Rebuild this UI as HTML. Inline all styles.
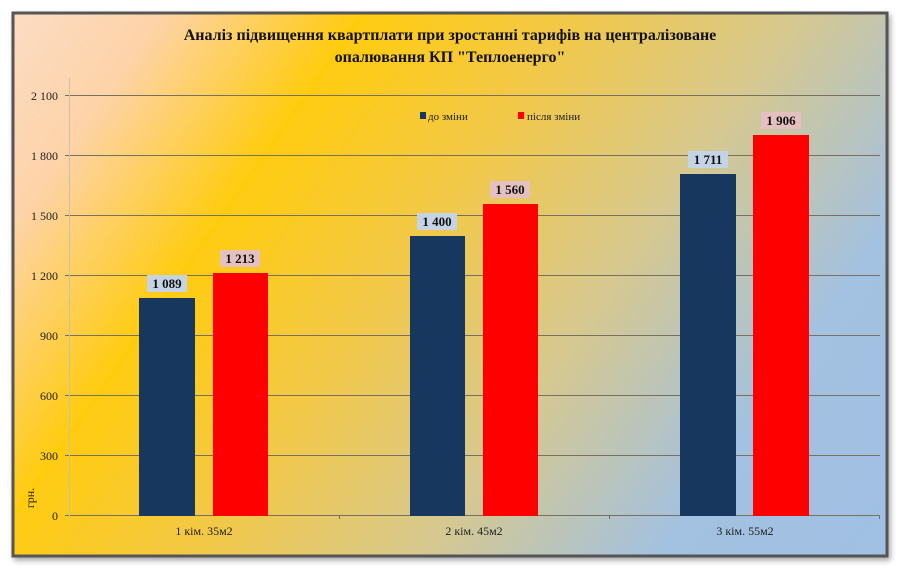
<!DOCTYPE html>
<html><head><meta charset="utf-8"><style>
html,body{margin:0;padding:0;background:#fff;}
svg{display:block;font-family:"Liberation Serif",serif;}
</style></head><body>
<svg width="900" height="570" viewBox="0 0 900 570" xmlns="http://www.w3.org/2000/svg">
<defs>
<linearGradient id="bg" gradientUnits="userSpaceOnUse" x1="13" y1="13" x2="854" y2="598">
<stop offset="0" stop-color="#fcdcc4"/>
<stop offset="0.12" stop-color="#fdd3a8"/>
<stop offset="0.28" stop-color="#ffcc10"/>
<stop offset="0.45" stop-color="#f2c848"/>
<stop offset="0.63" stop-color="#d6c890"/>
<stop offset="0.82" stop-color="#a3c1e0"/>
<stop offset="1" stop-color="#a0c0e4"/>
</linearGradient>
<filter id="sh" x="-5%" y="-5%" width="110%" height="110%"><feDropShadow dx="2" dy="3" stdDeviation="3" flood-color="#000" flood-opacity="0.35"/></filter>
</defs>
<rect x="13" y="13" width="874" height="543" fill="url(#bg)" stroke="#555" stroke-width="3" filter="url(#sh)"/>
<text x="450" y="40" text-anchor="middle" font-size="16" font-weight="bold" fill="#111">Аналіз підвищення квартплати при зростанні тарифів на централізоване</text>
<text x="450" y="62" text-anchor="middle" font-size="16" font-weight="bold" fill="#111">опалювання  КП "Теплоенерго"</text>
<g stroke="#7a7060" stroke-width="1">
<line x1="65" y1="95.5" x2="880" y2="95.5"/>
<line x1="65" y1="155.5" x2="880" y2="155.5"/>
<line x1="65" y1="215.5" x2="880" y2="215.5"/>
<line x1="65" y1="275.5" x2="880" y2="275.5"/>
<line x1="65" y1="335.5" x2="880" y2="335.5"/>
<line x1="65" y1="395.5" x2="880" y2="395.5"/>
<line x1="65" y1="455.5" x2="880" y2="455.5"/>
<line x1="65" y1="515.5" x2="880" y2="515.5"/>
<line x1="69.5" y1="78" x2="69.5" y2="519" stroke="#c8c0b0"/>
<line x1="339.5" y1="515" x2="339.5" y2="519"/>
<line x1="609.5" y1="515" x2="609.5" y2="519"/>
<line x1="879.5" y1="515" x2="879.5" y2="519"/>
</g>
<g font-size="12" fill="#222" text-anchor="end">
<text x="58" y="100">2 100</text><text x="58" y="160">1 800</text><text x="58" y="220">1 500</text>
<text x="58" y="280">1 200</text><text x="58" y="340">900</text><text x="58" y="400">600</text>
<text x="58" y="460">300</text><text x="58" y="520">0</text>
</g>
<text transform="translate(34,498) rotate(-90)" font-size="12" fill="#222" text-anchor="middle">грн.</text>
<g font-size="12" fill="#222" text-anchor="middle">
<text x="204" y="535">1 кім. 35м2</text><text x="474" y="535">2 кім. 45м2</text><text x="745" y="535">3 кім. 55м2</text>
</g>
<rect x="139" y="298" width="56" height="218" fill="#17375e"/>
<rect x="213" y="273" width="55" height="243" fill="#ff0000"/>
<rect x="410" y="236" width="55" height="280" fill="#17375e"/>
<rect x="483" y="204" width="55" height="312" fill="#ff0000"/>
<rect x="680" y="174" width="56" height="342" fill="#17375e"/>
<rect x="753" y="135" width="56" height="381" fill="#ff0000"/>
<g font-size="13" font-weight="bold" fill="#111" text-anchor="middle">
<rect x="147" y="275" width="40" height="17" fill="#c4d4e4"/><text x="167" y="288">1 089</text>
<rect x="220" y="250" width="40" height="17" fill="#e4c0c0"/><text x="240" y="263">1 213</text>
<rect x="417" y="213" width="40" height="17" fill="#c4d4e4"/><text x="437" y="226">1 400</text>
<rect x="490" y="181" width="40" height="17" fill="#e4c0c0"/><text x="510" y="194">1 560</text>
<rect x="688" y="151" width="40" height="17" fill="#c4d4e4"/><text x="708" y="164">1 711</text>
<rect x="761" y="112" width="40" height="17" fill="#e4c0c0"/><text x="781" y="125">1 906</text>
</g>
<rect x="420" y="112" width="6" height="7" fill="#17375e"/>
<text x="428" y="120" font-size="11" fill="#222">до зміни</text>
<rect x="518" y="112" width="6" height="7" fill="#ff0000"/>
<text x="527" y="120" font-size="11" fill="#222">після зміни</text>
</svg>
</body></html>
